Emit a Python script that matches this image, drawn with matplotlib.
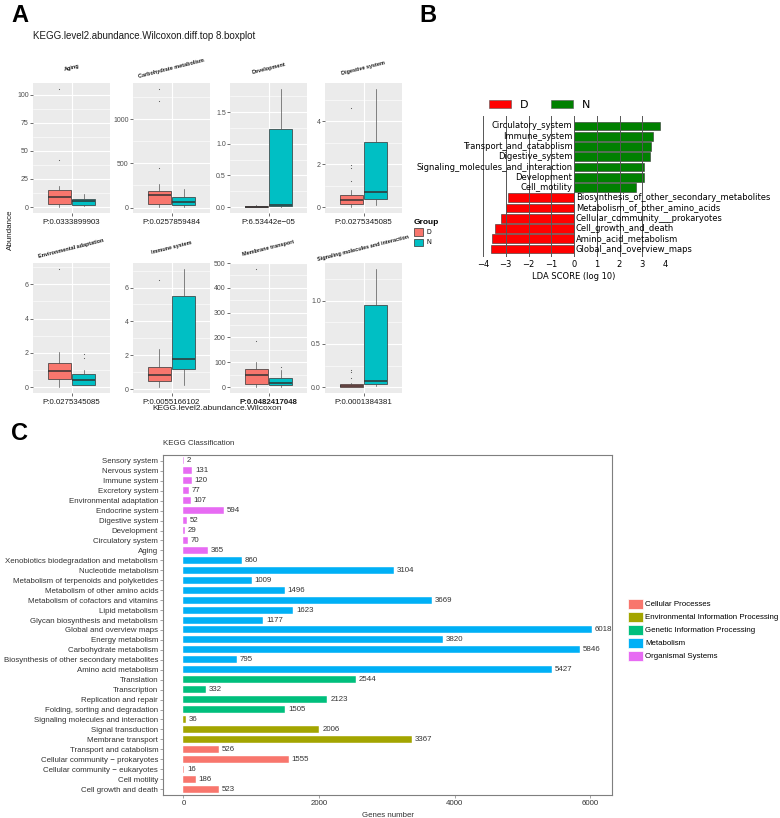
import matplotlib
matplotlib.use('Agg')
import matplotlib.pyplot as plt
from matplotlib.patches import Patch
import numpy as np

plt.rcParams['font.family'] = ['Liberation Sans', 'DejaVu Sans']

W, H = 780, 818
fig = plt.figure(figsize=(7.8, 8.18), dpi=100)


def ax_px(x0, y0, x1, y1):
    return fig.add_axes([x0 / W, 1 - y1 / H, (x1 - x0) / W, (y1 - y0) / H])

# ---------------- Panel A data ----------------
facet_names = ["Aging", "Carbohydrate metabolism", "Development", "Digestive system",
               "Environmental adaptation", "Immune system", "Membrane transport",
               "Signaling molecules and interaction"]
p_texts = ["P:0.0333899903", "P:0.0257859484", "P:6.53442e\u221205", "P:0.0275345085",
           "P:0.0275345085", "P:0.0055166102", "P:0.0482417048", "P:0.0001384381"]
# (whislo, q1, median, q3, whishi)
d_box = [[0, 3, 9, 15, 19], [5, 40, 145, 185, 270], [0, 0.0, 0.0, 0.01, 0.03],
         [0, 0.15, 0.32, 0.55, 0.8], [0, 0.45, 0.92, 1.42, 2.05],
         [0.12, 0.5, 0.82, 1.3, 2.35], [0, 12, 47, 72, 100], [0, 0.0, 0.015, 0.04, 0.05]]
d_out = [[42, 105], [450, 1200, 1340], [], [1.2, 1.8, 1.95, 4.6], [6.9], [6.45],
         [185, 475], [0.1, 0.18, 0.2]]
n_box = [[1, 2, 5, 7, 12], [10, 25, 60, 120, 215], [0, 0.02, 0.04, 1.24, 1.87],
         [0.08, 0.38, 0.68, 3.05, 5.5], [0.1, 0.15, 0.42, 0.78, 1.0],
         [0.25, 1.2, 1.75, 5.5, 7.1], [2, 8, 18, 35, 70], [0.01, 0.04, 0.065, 0.95, 1.37]]
n_out = [[], [], [], [], [1.7, 1.95], [], [80], []]
y_ticks = [[0, 25, 50, 75, 100], [0, 500, 1000], [0, 0.5, 1.0, 1.5], [0, 2, 4],
           [0, 2, 4, 6], [0, 2, 4, 6], [0, 100, 200, 300, 400, 500], [0, 0.5, 1.0]]
y_ticklabels = [["0", "25", "50", "75", "100"], ["0", "500", "1000"],
                ["0.0", "0.5", "1.0", "1.5"], ["0", "2", "4"], ["0", "2", "4", "6"],
                ["0", "2", "4", "6"], ["0", "100", "200", "300", "400", "500"],
                ["0.0", "0.5", "1.0"]]
group_names = ["D", "N"]
group_colors = ["#F8766D", "#00BFC4"]

cols_px = [(33, 110), (133, 210), (230, 307), (325, 402)]
rows_px = [(83, 213), (263, 393)]

for i in range(8):
    r, c = divmod(i, 4)
    x0, x1 = cols_px[c]
    y0, y1 = rows_px[r]
    ax = ax_px(x0, y0, x1, y1)
    ax.set_facecolor('#EBEBEB')
    stats = []
    for bx, out, lab in ((d_box[i], d_out[i], 'D'), (n_box[i], n_out[i], 'N')):
        stats.append(dict(whislo=bx[0], q1=bx[1], med=bx[2], q3=bx[3], whishi=bx[4],
                          fliers=out, label=lab))
    bp = ax.bxp(stats, positions=[1 - 0.1875, 1 + 0.1875], widths=0.36, patch_artist=True,
                showcaps=False,
                boxprops=dict(edgecolor='#333333', linewidth=0.5),
                whiskerprops=dict(color='#555555', linewidth=0.5),
                medianprops=dict(color='#333333', linewidth=1.1),
                flierprops=dict(marker='o', markersize=0.5, markerfacecolor='#555555',
                                markeredgecolor='#555555', markeredgewidth=0.3), zorder=3)
    for patch, col in zip(bp['boxes'], group_colors):
        patch.set_facecolor(col)
    allv = d_box[i] + n_box[i] + d_out[i] + n_out[i]
    lo, hi = min(allv), max(allv)
    pad = (hi - lo) * 0.05
    ax.set_ylim(lo - pad, hi + pad)
    ax.set_xlim(0.4, 1.6)
    yt = y_ticks[i]
    ax.set_yticks(yt)
    ax.set_yticklabels(y_ticklabels[i])
    minors = [(a + b) / 2 for a, b in zip(yt[:-1], yt[1:])]
    step = yt[1] - yt[0]
    minors = [yt[0] - step / 2] + minors + [yt[-1] + step / 2]
    for m in minors:
        ax.axhline(m, color='white', lw=0.4, zorder=0)
    for t in yt:
        ax.axhline(t, color='white', lw=0.8, zorder=0)
    ax.axvline(1, color='white', lw=0.8, zorder=0)
    ax.set_xticks([1])
    ax.set_xticklabels([''])
    ax.tick_params(axis='both', length=2, width=0.5, color='#333333', labelsize=5,
                   labelcolor='#4D4D4D', pad=1)
    for s in ax.spines.values():
        s.set_visible(False)
    ax.text(0.5, -0.045, p_texts[i], transform=ax.transAxes, ha='center', va='top',
            fontsize=5.7, color='#1A1A1A', fontweight='bold' if i == 6 else 'normal')
    ax.text(0.5, 1.0 + 15 / 130, facet_names[i], transform=ax.transAxes, ha='center',
            va='center', rotation=14, fontsize=4.0, fontweight='bold', color='#1A1A1A')

fig.text(33 / W, 1 - 36 / H, "KEGG.level2.abundance.Wilcoxon.diff.top 8.boxplot",
         fontsize=7.0, ha='left', va='center', color='#1A1A1A')
fig.text(10 / W, 1 - 230 / H, "Abundance", rotation=90, fontsize=5.8, ha='center',
         va='center', color='#1A1A1A')
fig.text(217 / W, 1 - 409 / H, "KEGG.level2.abundance.Wilcoxon", fontsize=6,
         ha='center', va='center', color='#1A1A1A')
legA = fig.legend(handles=[Patch(facecolor=group_colors[0], edgecolor='#333333', lw=0.5),
                           Patch(facecolor=group_colors[1], edgecolor='#333333', lw=0.5)],
                  labels=group_names, title='Group', loc='upper left',
                  bbox_to_anchor=(410 / W, 1 - 215 / H), frameon=False, fontsize=4.8,
                  title_fontproperties=dict(weight='bold', size=6), handlelength=1.4,
                  handleheight=1.3, labelspacing=0.35, handletextpad=0.5,
                  alignment='left', borderpad=0.1)

# ---------------- Panel B data ----------------
lda_names = ["Circulatory_system", "Immune_system", "Transport_and_catabolism",
             "Digestive_system", "Signaling_molecules_and_interaction", "Development",
             "Cell_motility", "Biosynthesis_of_other_secondary_metabolites",
             "Metabolism_of_other_amino_acids", "Cellular_community___prokaryotes",
             "Cell_growth_and_death", "Amino_acid_metabolism", "Global_and_overview_maps"]
lda_vals = [3.76, 3.49, 3.38, 3.32, 3.07, 3.07, 2.72, -2.92, -3.0, -3.22, -3.47, -3.6, -3.64]
lda_ticks = [-4, -3, -2, -1, 0, 1, 2, 3, 4]
lda_colors = {"D": "#FF0000", "N": "#008000"}

axB = ax_px(483, 115.75, 665, 257.2)
nB = len(lda_names)
yB = np.arange(nB)[::-1]
axB.barh(yB, lda_vals, height=0.85,
         color=[lda_colors['D'] if v < 0 else lda_colors['N'] for v in lda_vals],
         edgecolor='#333333', lw=0.4, zorder=2)
for t in lda_ticks:
    axB.axvline(t, color='#555555', lw=0.7, zorder=3)
for y, name, v in zip(yB, lda_names, lda_vals):
    if v > 0:
        axB.text(-0.08, y, name, ha='right', va='center', fontsize=6,
                 family='DejaVu Sans', zorder=4)
    else:
        axB.text(0.08, y, name, ha='left', va='center', fontsize=6,
                 family='DejaVu Sans', zorder=4)
axB.set_xlim(-4, 4)
axB.set_ylim(-0.8, 13.0)
axB.set_xticks(lda_ticks)
axB.set_xticklabels([("\u2212%d" % -t) if t < 0 else str(t) for t in lda_ticks],
                    family='DejaVu Sans')
axB.set_yticks([])
axB.tick_params(axis='x', length=0, labelsize=6, pad=2)
for s in axB.spines.values():
    s.set_visible(False)
axB.set_xlabel("LDA SCORE (log 10)", fontsize=6, family='DejaVu Sans', labelpad=2)
axB.legend(handles=[Patch(facecolor=lda_colors['D'], edgecolor='#555555', lw=0.4),
                    Patch(facecolor=lda_colors['N'], edgecolor='#555555', lw=0.4)],
           labels=["D", "N"], loc='upper left', bbox_to_anchor=(482 / W, 1 - 93 / H),
           bbox_transform=fig.transFigure, ncol=2, frameon=False,
           prop=dict(family='DejaVu Sans', size=8), handlelength=2.0, handleheight=0.7,
           columnspacing=2.0, handletextpad=0.8, borderpad=0.1)

# ---------------- Panel C data ----------------
kegg_names = ["Sensory system", "Nervous system", "Immune system", "Excretory system",
              "Environmental adaptation", "Endocrine system", "Digestive system",
              "Development", "Circulatory system", "Aging",
              "Xenobiotics biodegradation and metabolism", "Nucleotide metabolism",
              "Metabolism of terpenoids and polyketides", "Metabolism of other amino acids",
              "Metabolism of cofactors and vitamins", "Lipid metabolism",
              "Glycan biosynthesis and metabolism", "Global and overview maps",
              "Energy metabolism", "Carbohydrate metabolism",
              "Biosynthesis of other secondary metabolites", "Amino acid metabolism",
              "Translation", "Transcription", "Replication and repair",
              "Folding, sorting and degradation", "Signaling molecules and interaction",
              "Signal transduction", "Membrane transport", "Transport and catabolism",
              "Cellular community \u2212 prokaryotes", "Cellular community \u2212 eukaryotes",
              "Cell motility", "Cell growth and death"]
kegg_vals = [2, 131, 120, 77, 107, 594, 52, 29, 70, 365,
             860, 3104, 1009, 1496, 3669, 1623, 1177, 6018, 3820, 5846, 795, 5427,
             2544, 332, 2123, 1505,
             36, 2006, 3367,
             526, 1555, 16, 186, 523]
kegg_class = (["Organismal Systems"] * 10 + ["Metabolism"] * 12 +
              ["Genetic Information Processing"] * 4 +
              ["Environmental Information Processing"] * 3 + ["Cellular Processes"] * 5)
class_names = ["Cellular Processes", "Environmental Information Processing",
               "Genetic Information Processing", "Metabolism", "Organismal Systems"]
class_colors = ["#F8766D", "#A3A500", "#00BF7D", "#00B0F6", "#E76BF3"]
kegg_xticks = [0, 2000, 4000, 6000]

cmap = dict(zip(class_names, class_colors))
axC = ax_px(163, 455, 612, 795)
nC = len(kegg_names)
yC = np.arange(nC)[::-1]
axC.barh(yC, kegg_vals, height=0.7, color=[cmap[c] for c in kegg_class],
         edgecolor='white', lw=0.3)
for y, v in zip(yC, kegg_vals):
    axC.annotate(str(v), (v, y), xytext=(2, 0), textcoords='offset points',
                 ha='left', va='center', fontsize=5.7, color='#333333',
                 annotation_clip=False, clip_on=True)
axC.set_ylim(-0.6, nC - 0.4)
vmax = max(kegg_vals)
axC.set_xlim(-0.05 * vmax, 1.05 * vmax)
axC.set_yticks(yC)
axC.set_yticklabels(kegg_names)
axC.set_xticks(kegg_xticks)
axC.tick_params(axis='both', labelsize=5.7, labelcolor='#333333', color='#7F7F7F',
                length=2, width=0.5, pad=1.5)
for s in axC.spines.values():
    s.set_color('#7F7F7F')
    s.set_linewidth(0.8)
axC.set_xlabel("Genes number", fontsize=5.7, color='#333333', labelpad=4)
fig.text(163 / W, 1 - 444 / H, "KEGG Classification", fontsize=5.7, ha='left',
         va='center', color='#333333')
fig.legend(handles=[Patch(facecolor=c, edgecolor='white', lw=0.5) for c in class_colors],
           labels=class_names, loc='upper left', bbox_to_anchor=(623 / W, 1 - 594 / H),
           frameon=False, fontsize=5.7, handlelength=1.9, handleheight=1.6,
           labelspacing=0.35, handletextpad=0.3, borderpad=0.1)

# panel letters
fig.text(11 / W, 1 - 16 / H, "A", fontsize=17, fontweight='bold', ha='left', va='center')
fig.text(419 / W, 1 - 16 / H, "B", fontsize=17, fontweight='bold', ha='left', va='center')
fig.text(11 / W, 1 - 433 / H, "C", fontsize=17, fontweight='bold', ha='left', va='center')

fig.savefig("out.png", dpi=100)
